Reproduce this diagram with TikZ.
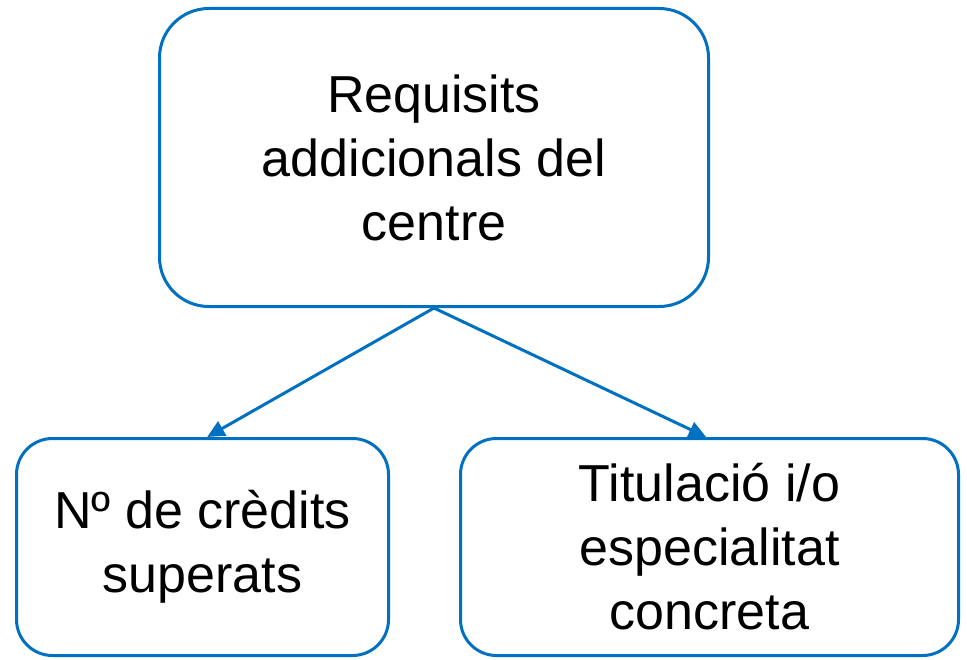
\documentclass[tikz,border=0pt]{standalone}
\usepackage{fontspec}
\setmainfont{Liberation Sans}
\usepackage{xcolor}
\usetikzlibrary{shapes,arrows.meta}
\definecolor{boxblue}{HTML}{0070C0}

\tikzset{
	reqbox/.style={draw=boxblue, line width=2.25pt, align=center, inner sep=0pt,
		font=\fontsize{39}{48}\selectfont},
	reqarrow/.style={draw=boxblue, line width=2.25pt, -{Triangle[length=13pt,width=12pt]}}
}

\begin{document}
\begin{tikzpicture}[x=0.75pt,y=-0.75pt]
		\useasboundingbox (0,0) rectangle (967,660);
		\node[reqbox, rounded corners=37pt, minimum width=411.75pt, minimum height=223.5pt] (centre) at (434,157.5) {Requisits\\addicionals del\\centre};
		\node[reqbox, rounded corners=27pt, minimum width=279pt, minimum height=162.75pt] (credits) at (202.5,547) {Nº de crèdits\\superats};
		\node[reqbox, rounded corners=27pt, minimum width=373.5pt, minimum height=162.75pt] (titol) at (709.5,547) {Titulació i/o\\especialitat\\concreta};
		\draw[reqarrow] (centre.south) -- ([xshift=3.5pt]credits.north);
		\draw[reqarrow] (centre.south) -- ([xshift=-2.5pt]titol.north);
		\end{tikzpicture}
\end{document}
